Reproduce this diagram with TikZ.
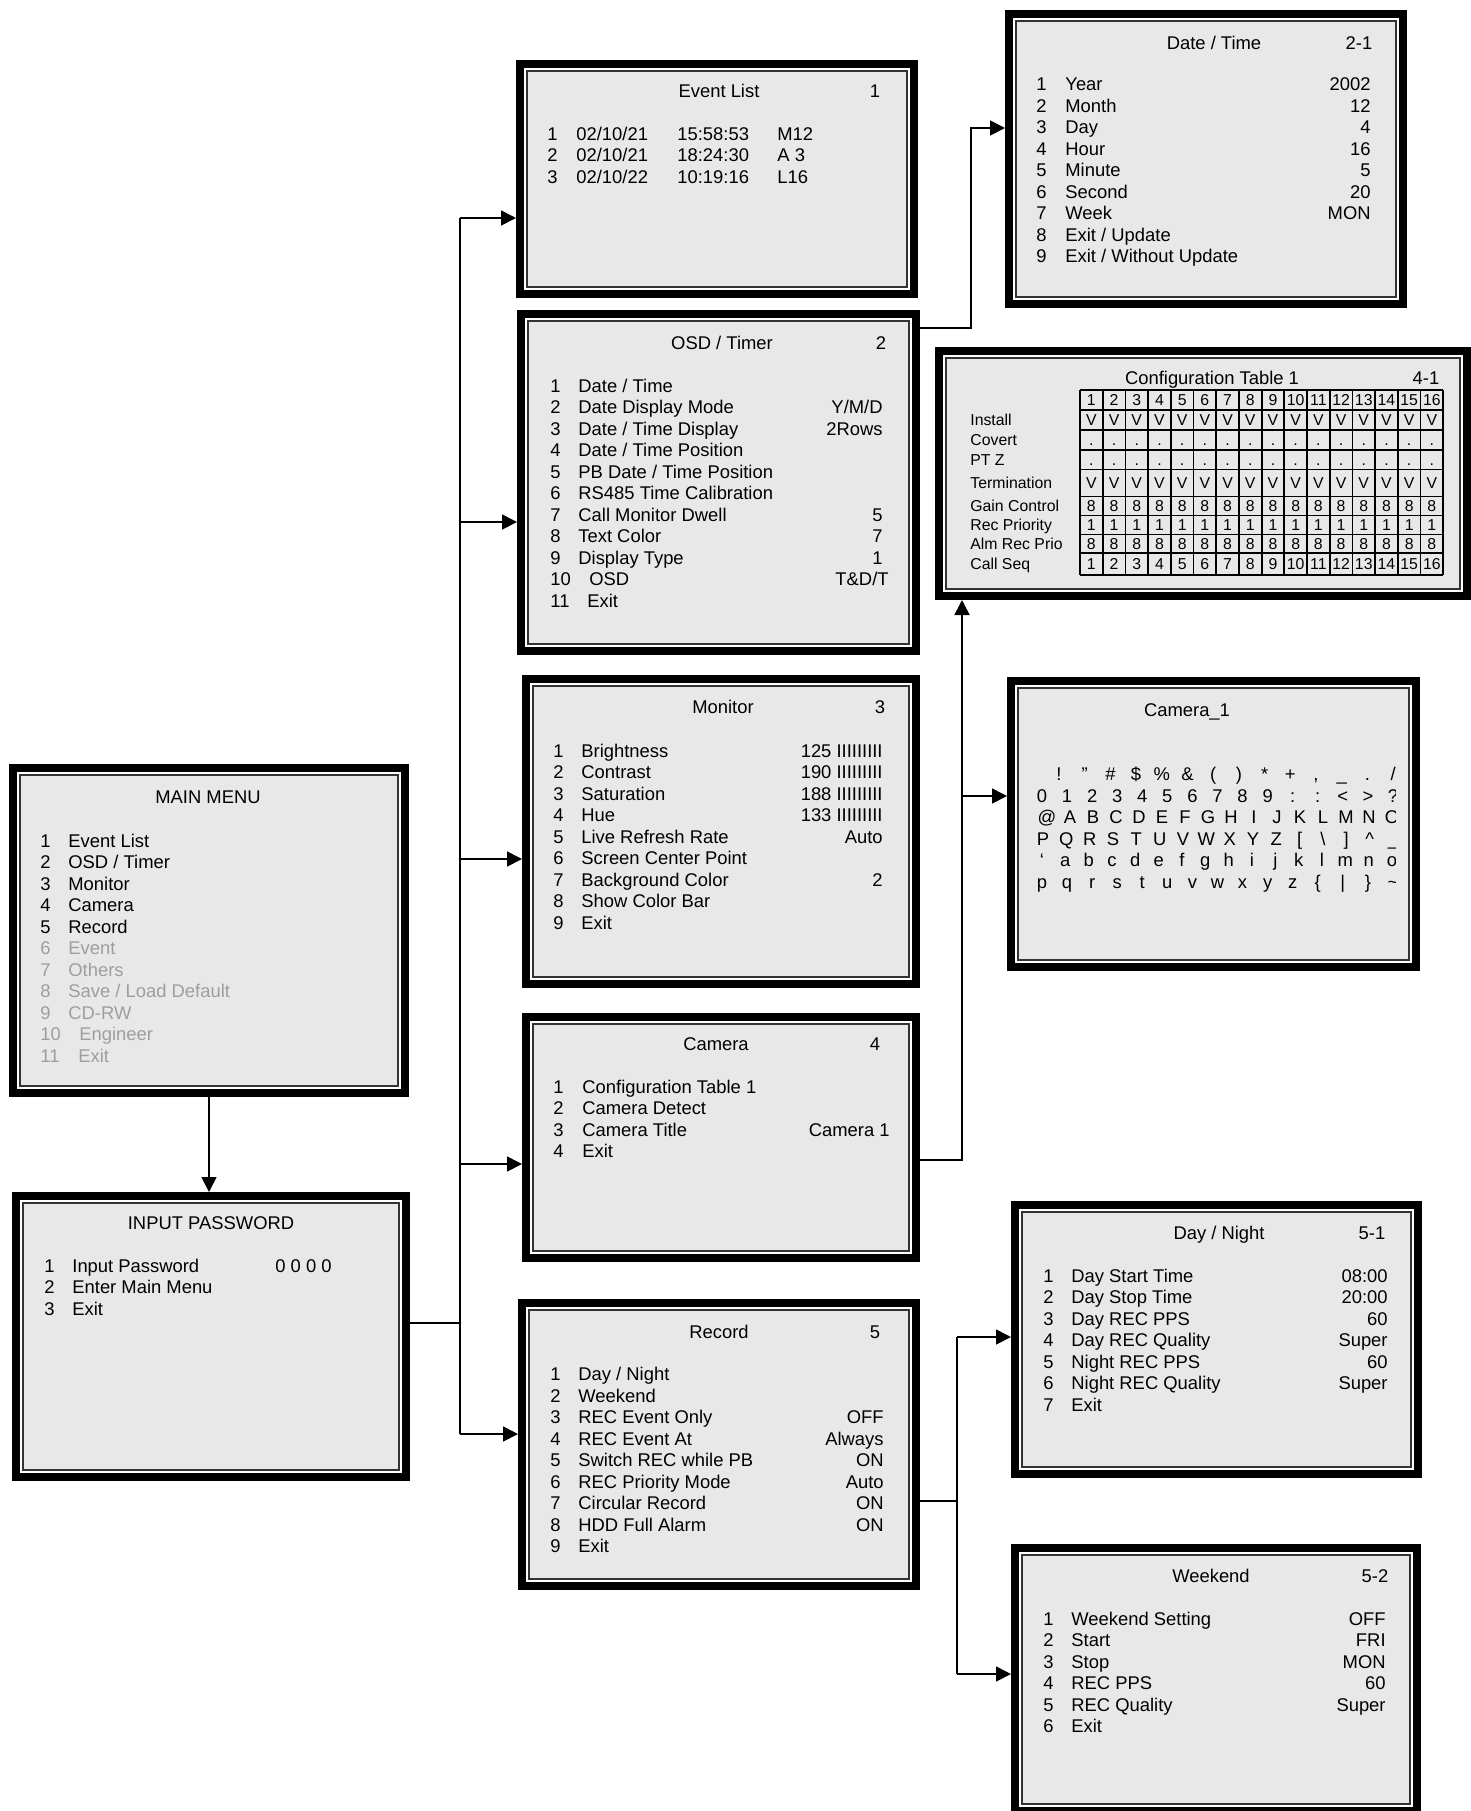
\documentclass[tikz,border=0pt]{standalone}
\usepackage{fontspec}
\setmainfont{Liberation Sans}
\usepackage{tikz}
\usetikzlibrary{fit,arrows.meta}
\definecolor{boxfill}{RGB}{232,232,232}
\definecolor{dimtext}{RGB}{158,158,158}
\newcommand{\menufont}{\fontsize{9.2}{11}\selectfont}
\newcommand{\cellfont}{\fontsize{7.9}{9}\selectfont}
\tikzset{
  menubox/.style={draw=black,line width=4pt,fill=white,inner sep=-2pt,outer sep=2pt},
  innerframe/.style={draw=black!80,line width=1pt,fill=boxfill},
  txt/.style={font=\menufont,inner sep=0pt,anchor=base west},
  txtr/.style={font=\menufont,inner sep=0pt,anchor=base east},
  txtc/.style={font=\menufont,inner sep=0pt,anchor=base},
  celltxt/.style={font=\cellfont,inner sep=0pt,anchor=base},
  rowlabel/.style={font=\cellfont,inner sep=0pt,anchor=base west},
  link/.style={draw=black,line width=0.85pt},
  linkarrow/.style={link,-{Triangle[length=7.5pt,width=7.5pt]}},
}

\begin{document}
\begin{tikzpicture}[x=0.5pt,y=-0.5pt]
\useasboundingbox (0,0) rectangle (1471,1811);
% boxes:
\node[menubox,fit={(9,764) (409,1097)}] (main) {};
\node[menubox,fit={(12,1192) (410,1481)}] (pwd) {};
\node[menubox,fit={(516,60) (918,298)}] (evlist) {};
\node[menubox,fit={(517,310) (920,655)}] (osd) {};
\node[menubox,fit={(522,675) (920,988)}] (monitor) {};
\node[menubox,fit={(522,1013) (920,1262)}] (camera) {};
\node[menubox,fit={(518,1299) (920,1590)}] (record) {};
\node[menubox,fit={(1005,10) (1407,308)}] (datetime) {};
\node[menubox,fit={(935,347) (1471,600)}] (config) {};
\node[menubox,fit={(1007,677) (1420,971)}] (camera1) {};
\node[menubox,fit={(1011,1201) (1422,1478)}] (daynight) {};
\node[menubox,fit={(1011,1544) (1421,1815)}] (weekend) {};
\foreach \b in {main,pwd,evlist,osd,monitor,camera,record,datetime,config,camera1,daynight,weekend}
  \path[innerframe] ([shift={(11,11)}]\b.north west) rectangle ([shift={(-11,-11)}]\b.south east);

% main menu:
\node[txtc] (main-title) at (208,803) {MAIN MENU};
\foreach \n/\l/\c/\lx [count=\i] in {1/Event List/black/68,2/{OSD / Timer}/black/68,3/Monitor/black/68,4/Camera/black/68,5/Record/black/68,6/Event/dimtext/68,7/Others/dimtext/68,8/{Save / Load Default}/dimtext/68,9/CD-RW/dimtext/68,10/Engineer/dimtext/79,11/Exit/dimtext/78}{
  \node[txt,text=\c] (main-n\i) at (40,{825.5+21.5*\i}) {\n};
  \node[txt,text=\c] (main-l\i) at (\lx,{825.5+21.5*\i}) {\l};
}

% input password:
\node[txtc] (pwd-title) at (211,1229) {INPUT PASSWORD};
\foreach \n/\l [count=\i] in {1/Input Password,2/Enter Main Menu,3/Exit}{
  \node[txt] (pwd-n\i) at (44,{1250.5+21.5*\i}) {\n};
  \node[txt] (pwd-l\i) at (72,{1250.5+21.5*\i}) {\l};
}
\node[txt] (pwd-v1) at (275,1272) {0 0 0 0};

% event list:
\node[txtc] (evlist-title) at (719,97.7) {Event List};
\node[txtc] (evlist-no) at (875,97.7) {1};
\foreach \n/\d/\t/\k [count=\i] in {1/{02/10/21}/15:58:53/M12,2/{02/10/21}/18:24:30/A 3,3/{02/10/22}/10:19:16/L16}{
  \node[txt] (evlist-n\i) at (547,{118.9+21.5*\i}) {\n};
  \node[txt] (evlist-d\i) at (576,{118.9+21.5*\i}) {\d};
  \node[txt] (evlist-t\i) at (677,{118.9+21.5*\i}) {\t};
  \node[txt] (evlist-k\i) at (777,{118.9+21.5*\i}) {\k};
}

% date / time:
\node[txtc] (datetime-title) at (1214,49.2) {Date / Time};
\node[txtc] (datetime-no) at (1359,49.2) {2-1};
\foreach \n/\l/\v [count=\i] in {1/Year/2002,2/Month/12,3/Day/4,4/Hour/16,5/Minute/5,6/Second/20,7/Week/MON,8/{Exit / Update}/{},9/{Exit / Without Update}/{}}{
  \node[txt] (datetime-n\i) at (1036,{69.3+21.5*\i}) {\n};
  \node[txt] (datetime-l\i) at (1065,{69.3+21.5*\i}) {\l};
  \node[txtr] (datetime-v\i) at (1371,{69.3+21.5*\i}) {\v};
}

% osd / timer:
\node[txtc] (osd-title) at (722,349.4) {OSD / Timer};
\node[txtc] (osd-no) at (881,349.4) {2};
\foreach \n/\l/\v [count=\i] in {1/{Date / Time}/{},2/Date Display Mode/{Y/M/D},3/{Date / Time Display}/2Rows,4/{Date / Time Position}/{},5/{PB Date / Time Position}/{},6/RS485 Time Calibration/{},7/Call Monitor Dwell/5,8/Text Color/7,9/Display Type/1}{
  \node[txt] (osd-n\i) at (550,{370.6+21.5*\i}) {\n};
  \node[txt] (osd-l\i) at (578,{370.6+21.5*\i}) {\l};
  \node[txtr] (osd-v\i) at (883,{370.6+21.5*\i}) {\v};
}
\node[txt] (osd-n10) at (550,585.6) {10};
\node[txt] (osd-l10) at (589,585.6) {OSD};
\node[txtr] (osd-v10) at (889,585.6) {T\&D/T};
\node[txt] (osd-n11) at (550,607.1) {11};
\node[txt] (osd-l11) at (587,607.1) {Exit};

% monitor:
\node[txtc] (monitor-title) at (723,713) {Monitor};
\node[txtc] (monitor-no) at (880,713) {3};
\foreach \n/\l/\v [count=\i] in {1/Brightness/125 IIIIIIIII,2/Contrast/190 IIIIIIIII,3/Saturation/188 IIIIIIIII,4/Hue/133 IIIIIIIII,5/Live Refresh Rate/Auto,6/Screen Center Point/{},7/Background Color/2,8/Show Color Bar/{},9/Exit/{}}{
  \node[txt] (monitor-n\i) at (553,{735.5+21.5*\i}) {\n};
  \node[txt] (monitor-l\i) at (581,{735.5+21.5*\i}) {\l};
  \node[txtr] (monitor-v\i) at (883,{735.5+21.5*\i}) {\v};
}

% camera:
\node[txtc] (camera-title) at (716,1050) {Camera};
\node[txtc] (camera-no) at (875,1050) {4};
\foreach \n/\l [count=\i] in {1/Configuration Table 1,2/Camera Detect,3/Camera Title,4/Exit}{
  \node[txt] (camera-n\i) at (553,{1071.5+21.5*\i}) {\n};
  \node[txt] (camera-l\i) at (582,{1071.5+21.5*\i}) {\l};
}
\node[txtr] (camera-v3) at (890,1136) {Camera 1};

% record:
\node[txtc] (record-title) at (719,1338) {Record};
\node[txtc] (record-no) at (875,1338) {5};
\foreach \n/\l/\v [count=\i] in {1/{Day / Night}/{},2/Weekend/{},3/REC Event Only/OFF,4/REC Event At/Always,5/Switch REC while PB/ON,6/REC Priority Mode/Auto,7/Circular Record/ON,8/HDD Full Alarm/ON,9/Exit/{}}{
  \node[txt] (record-n\i) at (550,{1359+21.5*\i}) {\n};
  \node[txt] (record-l\i) at (578,{1359+21.5*\i}) {\l};
  \node[txtr] (record-v\i) at (884,{1359+21.5*\i}) {\v};
}

% day / night:
\node[txtc] (daynight-title) at (1219,1239.6) {Day / Night};
\node[txtc] (daynight-no) at (1372,1239.6) {5-1};
\foreach \n/\l/\v [count=\i] in {1/Day Start Time/08:00,2/Day Stop Time/20:00,3/Day REC PPS/60,4/Day REC Quality/Super,5/Night REC PPS/60,6/Night REC Quality/Super,7/Exit/{}}{
  \node[txt] (daynight-n\i) at (1043,{1260.8+21.5*\i}) {\n};
  \node[txt] (daynight-l\i) at (1071,{1260.8+21.5*\i}) {\l};
  \node[txtr] (daynight-v\i) at (1388,{1260.8+21.5*\i}) {\v};
}

% weekend:
\node[txtc] (weekend-title) at (1211,1582.5) {Weekend};
\node[txtc] (weekend-no) at (1375,1582.5) {5-2};
\foreach \n/\l/\v [count=\i] in {1/Weekend Setting/OFF,2/Start/FRI,3/Stop/MON,4/REC PPS/60,5/REC Quality/Super,6/Exit/{}}{
  \node[txt] (weekend-n\i) at (1043,{1603.5+21.5*\i}) {\n};
  \node[txt] (weekend-l\i) at (1071,{1603.5+21.5*\i}) {\l};
  \node[txtr] (weekend-v\i) at (1386,{1603.5+21.5*\i}) {\v};
}

% configuration table:
\node[txtc] (config-title) at (1212,384) {Configuration Table 1};
\node[txtc] (config-no) at (1426,384) {4-1};
\foreach \y in {390,410,430,450,469.5,496.5,515.5,534.5,553,575}
  \path[draw=black,line width=0.9pt] (1080,\y) -- (1443.2,\y);
\foreach \i in {0,...,16}
  \path[draw=black,line width=0.9pt] ({1080+22.7*\i},390) -- ({1080+22.7*\i},575);
\foreach \l/\y [count=\i] in {Install/425.9,Covert/445.7,PT Z/465.4,Termination/488.7,Gain Control/511.7,Rec Priority/530.7,Alm Rec Prio/549.4,Call Seq/569.7}
  \node[rowlabel] (config-l\i) at (970,\y) {\l};
\foreach \c in {1,...,16}{
  \node[celltxt] (config-h\c) at ({1068.65+22.7*\c},405.7) {\c};
  \node[celltxt] (config-seq\c) at ({1068.65+22.7*\c},569.7) {\c};
}
\foreach \r/\y/\v in {ins/425.9/V,cov/445.7/{.},ptz/465.4/{.},term/488.7/V,gain/511.7/8,prio/530.7/1,alm/549.4/8}
  \foreach \c in {1,...,16}
    \node[celltxt] (config-\r\c) at ({1068.65+22.7*\c},\y) {\v};

% camera title characters:
\node[txtc] (camera1-title) at (1187,716.5) {Camera\_1};
\begin{scope}
\clip (1030,750) rectangle (1395,900);
\foreach \c [count=\i] in {!,”,\#,\$,\%,\&,{(},{)},*,+,{,},\_,{.},/}
  \node[txtc] (camera1-a\i) at ({1033.3+25.7*\i},780.5) {\c};
\foreach \c [count=\i] in {0,1,2,3,4,5,6,7,8,9,{:},{:},{<},{>},{?}}
  \node[txtc] (camera1-b\i) at ({1016.93+25.07*\i},802) {\c};
\foreach \c [count=\i] in {@,A,B,C,D,E,F,G,H,I,J,K,L,M,N,O}
  \node[txtc] (camera1-c\i) at ({1024+23*\i},823.7) {\c};
\foreach \c [count=\i] in {P,Q,R,S,T,U,V,W,X,Y,Z,{[},\textbackslash,{]},\textasciicircum,\_}
  \node[txtc] (camera1-d\i) at ({1019.67+23.33*\i},845.3) {\c};
\foreach \c [count=\i] in {‘,a,b,c,d,e,f,g,h,i,j,k,l,m,n,o}
  \node[txtc] (camera1-e\i) at ({1018.67+23.33*\i},866.9) {\c};
\foreach \c [count=\i] in {p,q,r,s,t,u,v,w,x,y,z,\{,|,\},\textasciitilde}
  \node[txtc] (camera1-f\i) at ({1016.93+25.07*\i},888.5) {\c};
\end{scope}

% connectors:
\path[linkarrow] (main.south) -- (main.south |- pwd.north);
\coordinate (t0) at (460,1323);
\coordinate (t1) at (460,218);
\coordinate (t2) at (460,522);
\coordinate (t3) at (460,859);
\coordinate (t4) at (460,1164);
\coordinate (t5) at (460,1434);
\path[link] (t0 -| pwd.east) -- (t0);
\path[link] (t1) -- (t5);
\path[linkarrow] (t1) -- (t1 -| evlist.west);
\path[linkarrow] (t2) -- (t2 -| osd.west);
\path[linkarrow] (t3) -- (t3 -| monitor.west);
\path[linkarrow] (t4) -- (t4 -| camera.west);
\path[linkarrow] (t5) -- (t5 -| record.west);
\coordinate (d0) at (971,328);
\coordinate (d1) at (971,128);
\path[linkarrow] (d0 -| osd.east) -- (d0) -- (d1) -- (d1 -| datetime.west);
\coordinate (c0) at (962,1160);
\coordinate (c1) at (962,796);
\path[linkarrow] (c0 -| camera.east) -- (c0) -- (c0 |- config.south);
\path[linkarrow] (c1) -- (c1 -| camera1.west);
\coordinate (r0) at (957,1501);
\coordinate (r1) at (957,1337);
\coordinate (r2) at (957,1674);
\path[link] (r0 -| record.east) -- (r0);
\path[link] (r1) -- (r2);
\path[linkarrow] (r1) -- (r1 -| daynight.west);
\path[linkarrow] (r2) -- (r2 -| weekend.west);
\end{tikzpicture}
\end{document}
